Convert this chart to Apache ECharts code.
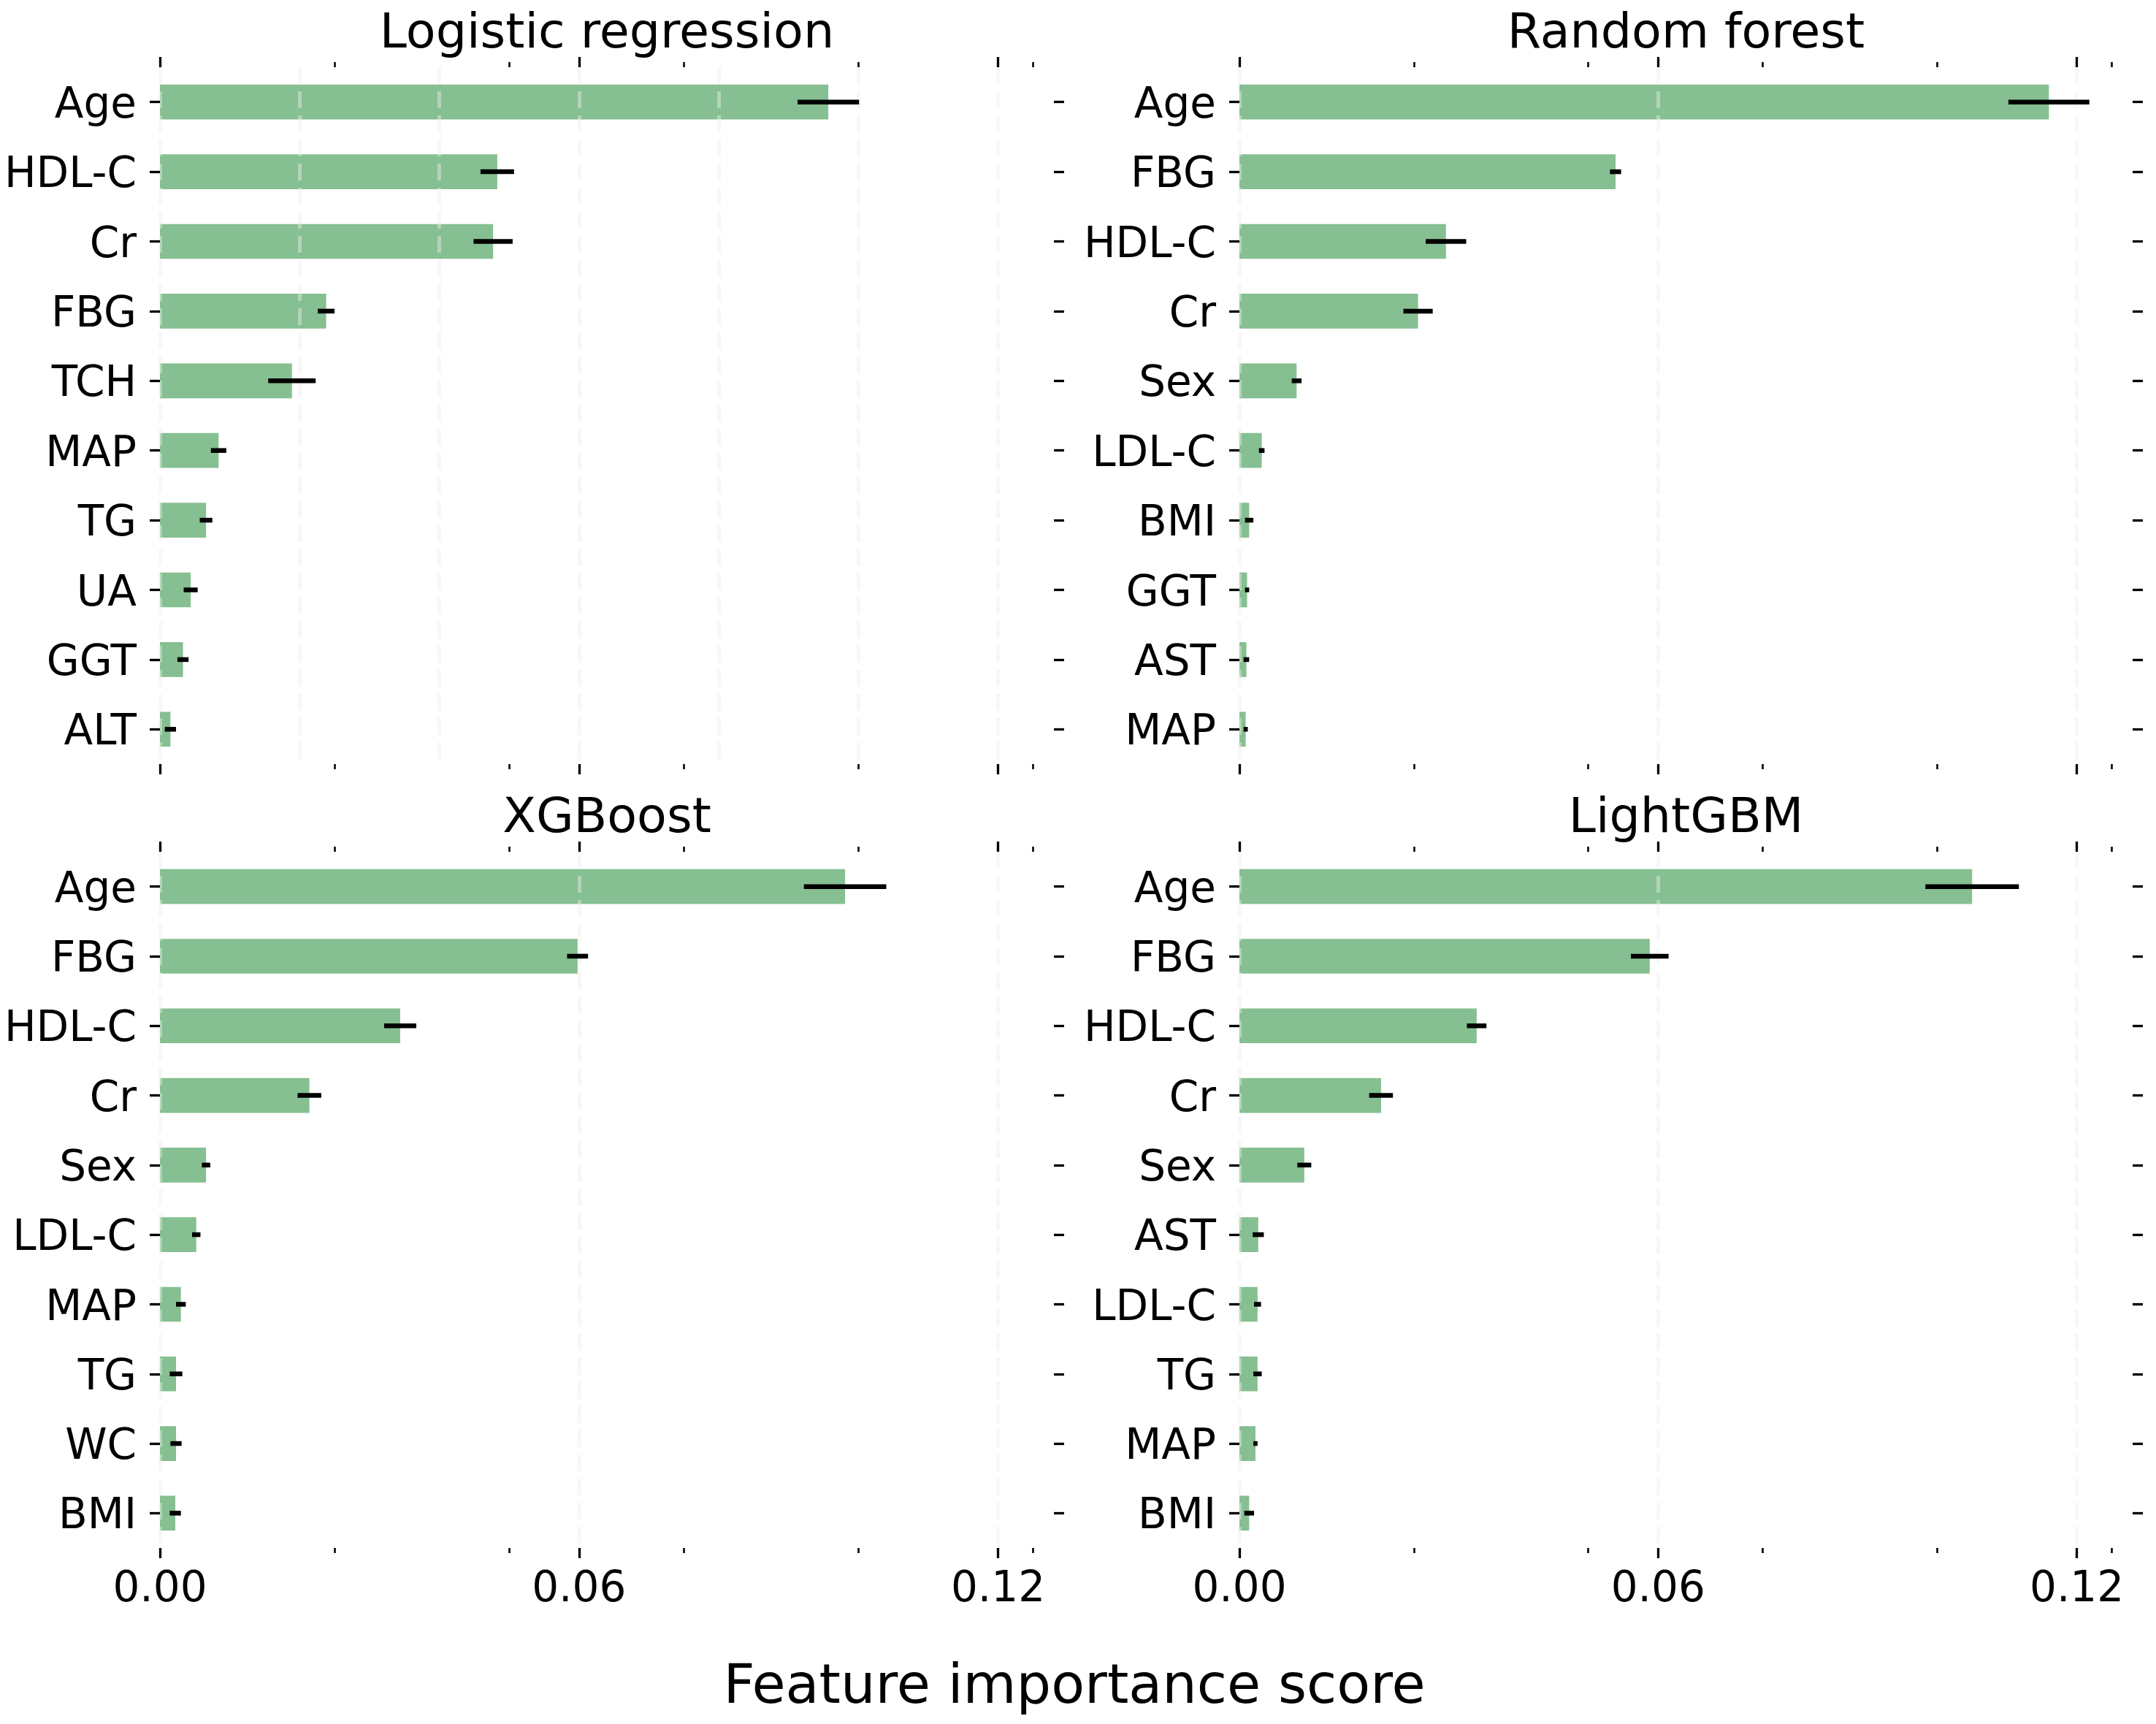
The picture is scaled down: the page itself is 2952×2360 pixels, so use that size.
<!DOCTYPE html>
<html>
<head>
<meta charset="utf-8">
<script src="https://cdn.jsdelivr.net/npm/echarts@6/dist/echarts.min.js"></script>
<style>
  html, body { margin: 0; padding: 0; background: #ffffff; }
  #chart { width: 2952px; height: 2360px; }
</style>
</head>
<body>
<div id="chart"></div>
<script>
// ---------------- data ----------------
const lrFeatures = ['Age', 'HDL-C', 'Cr', 'FBG', 'TCH', 'MAP', 'TG', 'UA', 'GGT', 'ALT'];
const lrValues   = [0.0957, 0.0483, 0.0477, 0.0238, 0.0189, 0.0084, 0.0066, 0.0044, 0.0033, 0.0015];
const lrErrors   = [0.0044, 0.0024, 0.0028, 0.0012, 0.0034, 0.0011, 0.0009, 0.0010, 0.0008, 0.0008];

const rfFeatures = ['Age', 'FBG', 'HDL-C', 'Cr', 'Sex', 'LDL-C', 'BMI', 'GGT', 'AST', 'MAP'];
const rfValues   = [0.1160, 0.0539, 0.0296, 0.0256, 0.0082, 0.0032, 0.0014, 0.0011, 0.0010, 0.0009];
const rfErrors   = [0.0058, 0.0008, 0.0029, 0.0021, 0.0007, 0.0004, 0.0006, 0.0003, 0.0004, 0.0003];

const xgbFeatures = ['Age', 'FBG', 'HDL-C', 'Cr', 'Sex', 'LDL-C', 'MAP', 'TG', 'WC', 'BMI'];
const xgbValues   = [0.0981, 0.0598, 0.0344, 0.0214, 0.0066, 0.0052, 0.0030, 0.0023, 0.0023, 0.0022];
const xgbErrors   = [0.0059, 0.0015, 0.0023, 0.0017, 0.0006, 0.0006, 0.0007, 0.0009, 0.0008, 0.0008];

const lgbFeatures = ['Age', 'FBG', 'HDL-C', 'Cr', 'Sex', 'AST', 'LDL-C', 'TG', 'MAP', 'BMI'];
const lgbValues   = [0.1050, 0.0588, 0.0340, 0.0203, 0.0093, 0.0027, 0.0026, 0.0026, 0.0023, 0.0014];
const lgbErrors   = [0.0067, 0.0027, 0.0014, 0.0017, 0.0010, 0.0008, 0.0005, 0.0006, 0.0003, 0.0007];

const panelTitles = ['Logistic regression', 'Random forest', 'XGBoost', 'LightGBM'];
const majorTicks = [0, 0.06, 0.12];
const minorTicks = [0.025, 0.05, 0.075, 0.1, 0.125];
const xMin = 0;
const xMax = 0.128;
const axisTitle = 'Feature importance score';

// ---------------- layout / style ----------------
const FONT = 'DejaVu Sans';
const BAR_COLOR = '#86bf91';
const panels = [
  { feats: lrFeatures,  vals: lrValues,  errs: lrErrors,  left: 219,  top: 92,   w: 1224, h: 954, labels: false, gridInterval: 0.02 },
  { feats: rfFeatures,  vals: rfValues,  errs: rfErrors,  left: 1697, top: 92,   w: 1223, h: 954, labels: false, gridInterval: 0.06 },
  { feats: xgbFeatures, vals: xgbValues, errs: xgbErrors, left: 219,  top: 1166, w: 1224, h: 953, labels: true,  gridInterval: 0.06 },
  { feats: lgbFeatures, vals: lgbValues, errs: lgbErrors, left: 1697, top: 1166, w: 1223, h: 953, labels: true,  gridInterval: 0.06 }
];

const grids = [], xAxes = [], yAxes = [], series = [], graphics = [];

panels.forEach((p, gi) => {
  grids.push({ left: p.left, top: p.top, width: p.w, height: p.h, containLabel: false, outerBoundsMode: 'none', show: false });

  const baseX = { type: 'value', gridIndex: gi, min: xMin, max: xMax, axisLine: { show: false, onZero: false }, splitLine: { show: false }, axisLabel: { show: false }, axisTick: { show: false } };
  const mainIdx = xAxes.length;
  // main bottom axis: major ticks + labels
  xAxes.push(Object.assign({}, baseX, {
    position: 'bottom', interval: 0.06, z: 4,
    axisTick: { show: true, customValues: majorTicks, length: 14, lineStyle: { color: '#000', width: 3.3 } },
    axisLabel: { show: p.labels, customValues: majorTicks, margin: 29, fontFamily: FONT, fontSize: 58, color: '#000',
                 formatter: v => Number(v).toFixed(2) }
  }));
  // bottom minor
  xAxes.push(Object.assign({}, baseX, {
    position: 'bottom', interval: 0.025, z: 4,
    axisTick: { show: true, customValues: minorTicks, length: 7, lineStyle: { color: '#000', width: 2.6 } }
  }));
  // top major
  xAxes.push(Object.assign({}, baseX, {
    position: 'top', interval: 0.06, z: 4,
    axisTick: { show: true, customValues: majorTicks, length: 14, lineStyle: { color: '#000', width: 3.3 } }
  }));
  // top minor
  xAxes.push(Object.assign({}, baseX, {
    position: 'top', interval: 0.025, z: 4,
    axisTick: { show: true, customValues: minorTicks, length: 7, lineStyle: { color: '#000', width: 2.6 } }
  }));
  // dashed grid lines
  xAxes.push(Object.assign({}, baseX, {
    position: 'bottom', interval: p.gridInterval, z: 2.5,
    splitLine: { show: true, showMaxLine: false, lineStyle: { color: '#eeeeee', opacity: 0.45, width: 5, type: [23, 10] } }
  }));

  const yMainIdx = yAxes.length;
  yAxes.push({
    type: 'category', gridIndex: gi, data: p.feats, inverse: true, position: 'left', z: 4,
    axisLine: { show: false, onZero: false },
    axisTick: { show: true, alignWithLabel: true, length: 14, lineStyle: { color: '#000', width: 3.3 } },
    axisLabel: { show: true, margin: 32, fontFamily: FONT, fontSize: 58, color: '#000', verticalAlign: 'top', lineHeight: 12 },
    splitLine: { show: false }
  });
  yAxes.push({
    type: 'category', gridIndex: gi, data: p.feats, inverse: true, position: 'right', z: 4,
    axisLine: { show: false, onZero: false },
    axisTick: { show: true, alignWithLabel: true, length: 14, lineStyle: { color: '#000', width: 3.3 } },
    axisLabel: { show: false },
    splitLine: { show: false }
  });

  series.push({
    type: 'bar', xAxisIndex: mainIdx, yAxisIndex: yMainIdx, data: p.vals,
    barWidth: '50%', itemStyle: { color: BAR_COLOR }, z: 1, silent: true, animation: false
  });
  series.push({
    type: 'custom', xAxisIndex: mainIdx, yAxisIndex: yMainIdx, z: 5, silent: true, animation: false,
    data: p.vals.map((v, i) => [v, p.errs[i], i]),
    encode: { x: [0], y: [2] },
    renderItem: (params, api) => {
      const v = api.value(0), e = api.value(1), c = api.value(2);
      const a = api.coord([v - e, c]);
      const b = api.coord([v + e, c]);
      return { type: 'line', shape: { x1: a[0], y1: a[1], x2: b[0], y2: b[1] },
               style: { stroke: '#000', lineWidth: 6.5 } };
    }
  });

  // panel title
  graphics.push({
    type: 'text', x: p.left + p.w / 2, y: p.top - 44,
    style: { text: panelTitles[gi], font: '66.7px "' + FONT + '"', fill: '#000', align: 'center', verticalAlign: 'middle' }
  });
});

graphics.push({
  type: 'text', x: 1471, y: 2312,
  style: { text: axisTitle, font: '75px "' + FONT + '"', fill: '#000', align: 'center', verticalAlign: 'middle' }
});

const chart = echarts.init(document.getElementById('chart'), null, { renderer: 'canvas' });
chart.setOption({
  backgroundColor: '#ffffff',
  animation: false,
  textStyle: { fontFamily: FONT },
  grid: grids,
  xAxis: xAxes,
  yAxis: yAxes,
  series: series,
  graphic: graphics
});
</script>
</body>
</html>
